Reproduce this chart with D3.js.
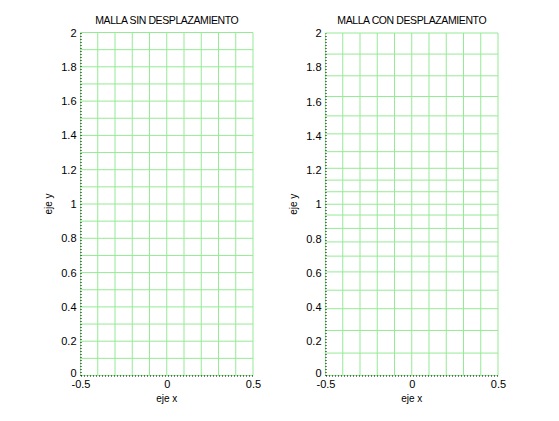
<!DOCTYPE html>
<html><head><meta charset="utf-8">
<script src="https://cdn.jsdelivr.net/npm/d3@7"></script>
<style>
body{margin:0;background:#fff;}
text{font-family:"Liberation Sans",Arial,sans-serif;fill:#000;}
</style></head>
<body>
<svg id="c" width="559" height="421"></svg>
<script>
// Data
const titles = ["MALLA SIN DESPLAZAMIENTO", "MALLA CON DESPLAZAMIENTO"];
const xGrid = [-0.5,-0.4,-0.3,-0.2,-0.1,0,0.1,0.2,0.3,0.4,0.5];
const yGridSin = [0,0.1,0.2,0.3,0.4,0.5,0.6,0.7,0.8,0.9,1.0,1.1,1.2,1.3,1.4,1.5,1.6,1.7,1.8,1.9,2.0];
const yGridCon = [0,0.131,0.263,0.390,0.498,0.605,0.697,0.780,0.859,0.937,1.0,1.073,1.141,1.210,1.307,1.411,1.516,1.629,1.75,1.877,2.0];
const xTicks = [-0.5,0,0.5];
const yTicks = [0,0.2,0.4,0.6,0.8,1,1.2,1.4,1.6,1.8,2];
const xLabel = "eje x", yLabel = "eje y";

const svg = d3.select("#c");
const panels = [
  {title:titles[0], yGrid:yGridSin, x0:80.5, x1:253, y0:375.5, y1:32.5},
  {title:titles[1], yGrid:yGridCon, x0:325.5, x1:498, y0:375.5, y1:33}
];
const green = "#95ea95";
panels.forEach(p=>{
  const x = d3.scaleLinear().domain([-0.5,0.5]).range([p.x0,p.x1]);
  const y = d3.scaleLinear().domain([0,2]).range([p.y0,p.y1]);
  const g = svg.append("g");
  g.selectAll(".v").data(xGrid).enter().append("line")
    .attr("x1",d=>x(d)).attr("x2",d=>x(d)).attr("y1",y(0)).attr("y2",y(2))
    .attr("stroke",green).attr("stroke-width",1);
  g.selectAll(".h").data(p.yGrid).enter().append("line")
    .attr("y1",d=>y(d)).attr("y2",d=>y(d)).attr("x1",x(-0.5)).attr("x2",x(0.5))
    .attr("stroke",green).attr("stroke-width",1);
  // axes
  const xa = g.append("g").attr("transform",`translate(0,${y(0)})`)
    .call(d3.axisBottom(x).tickValues(xTicks).tickSize(0).tickPadding(4).tickFormat(d=>String(d)));
  const ya = g.append("g").attr("transform",`translate(${x(-0.5)},0)`)
    .call(d3.axisLeft(y).tickValues(yTicks).tickSize(0).tickPadding(4).tickFormat(d=>String(d)));
  [xa,ya].forEach(a=>{
    a.select(".domain").attr("stroke","#000").attr("stroke-dasharray","1,2");
    a.selectAll("text").attr("font-size",11).attr("font-family","Liberation Sans, Arial, sans-serif").attr("fill","#000");
  });
  ya.selectAll("text").attr("dy",d=>d===0?"0.05em":"0.32em");
  xa.selectAll("text").attr("dy","0.8em");
  g.append("text").attr("x",(p.x0+p.x1)/2).attr("y",24).attr("text-anchor","middle")
    .attr("font-size",10.5).attr("letter-spacing",-0.4).text(p.title);
  g.append("text").attr("x",(p.x0+p.x1)/2).attr("y",402).attr("text-anchor","middle")
    .attr("font-size",10).text(xLabel);
  g.append("text").attr("transform",`translate(${p.x0-29},${(p.y0+p.y1)/2}) rotate(-90)`)
    .attr("text-anchor","middle").attr("font-size",10).text(yLabel);
});
</script>
</body></html>
